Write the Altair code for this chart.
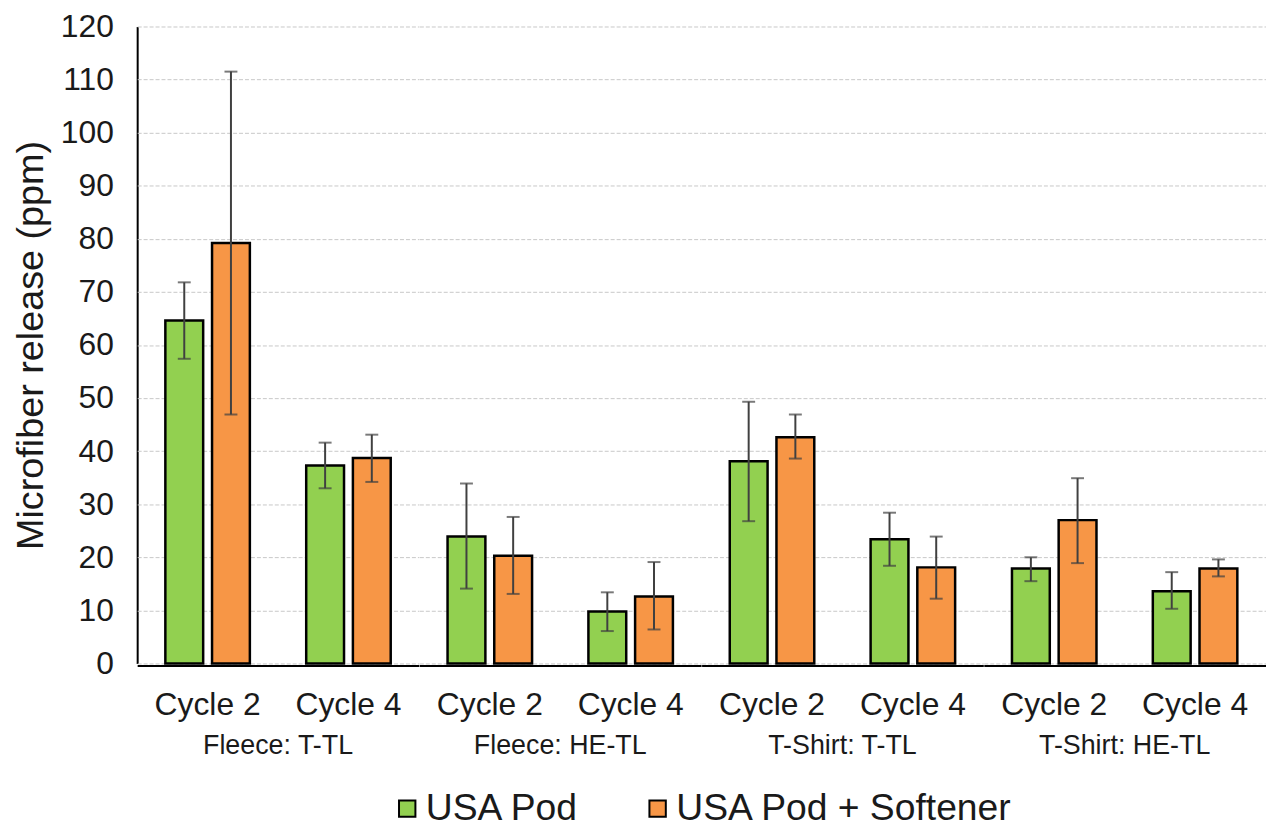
import altair as alt
import pandas as pd

groups = ["Fleece: T-TL", "Fleece: HE-TL", "T-Shirt: T-TL", "T-Shirt: HE-TL"]
cycles = ["Cycle 2", "Cycle 4"]
series = ["USA Pod", "USA Pod + Softener"]

# order: group x cycle
pod_mean = [64.6, 37.3, 23.9, 9.8, 38.1, 23.4, 17.9, 13.6]
pod_lo = [57.4, 33.0, 14.1, 6.1, 26.8, 18.4, 15.5, 10.3]
pod_hi = [71.8, 41.6, 33.9, 13.4, 49.3, 28.4, 20.0, 17.2]
soft_mean = [79.2, 38.7, 20.3, 12.6, 42.6, 18.1, 27.0, 17.9]
soft_lo = [46.9, 34.2, 13.1, 6.4, 38.6, 12.2, 18.9, 16.4]
soft_hi = [111.5, 43.1, 27.6, 19.1, 46.9, 23.9, 34.9, 19.6]

rows = []
i = 0
for g in groups:
    for c in cycles:
        rows.append(dict(group=g, cycle=c, series=series[0], value=pod_mean[i], lo=pod_lo[i], hi=pod_hi[i]))
        rows.append(dict(group=g, cycle=c, series=series[1], value=soft_mean[i], lo=soft_lo[i], hi=soft_hi[i]))
        i += 1
df = pd.DataFrame(rows)

FONT = "Liberation Sans"
GREEN = "#92D050"
ORANGE = "#F79646"
ERR = "#404040"

x_enc = alt.X("cycle:N", sort=cycles, title=None,
              scale=alt.Scale(paddingInner=0.4, paddingOuter=0.2),
              axis=alt.Axis(labelAngle=0, ticks=False, grid=False, domainColor="black", domainWidth=2,
                            labelFontSize=32, labelPadding=24, labelColor="#1a1a1a", labelFont=FONT))
xo_enc = alt.XOffset("series:N", sort=series, scale=alt.Scale(paddingInner=0.19, paddingOuter=0))
y_scale = alt.Scale(domain=[0, 120], nice=False)

base = alt.Chart(df)
bars = base.mark_bar(stroke="black", strokeWidth=2.5).encode(
    x=x_enc,
    xOffset=xo_enc,
    y=alt.Y("value:Q", scale=y_scale, title="Microfiber release (ppm)",
            axis=alt.Axis(values=list(range(0, 121, 10)), ticks=False, domainColor="black", domainWidth=2,
                          grid=True, gridColor="#c8c8c8", gridDash=[4, 2], gridWidth=1,
                          labelFontSize=32, labelPadding=24, labelColor="#1a1a1a", labelFont=FONT,
                          titleFontSize=38, titleFontWeight="normal", titlePadding=10,
                          titleColor="#1a1a1a", titleFont=FONT)),
    color=alt.Color("series:N", sort=series, scale=alt.Scale(domain=series, range=[GREEN, ORANGE]),
                    legend=alt.Legend(title=None, orient="none", direction="horizontal",
                                      legendX=253, legendY=768,
                                      symbolType="square", symbolSize=272, symbolStrokeWidth=2,
                                      symbolStrokeColor="black", labelFontSize=37.5, labelFont=FONT,
                                      labelColor="#1a1a1a", columnPadding=60, labelOffset=0,
                                      labelLimit=600)),
)
rules = base.mark_rule(color=ERR, strokeWidth=2).encode(
    x=x_enc, xOffset=xo_enc, y=alt.Y("lo:Q", scale=y_scale), y2="hi:Q")
cap_lo = base.mark_tick(color=ERR, thickness=2, size=13).encode(
    x=x_enc, xOffset=xo_enc, y=alt.Y("lo:Q", scale=y_scale))
cap_hi = base.mark_tick(color=ERR, thickness=2, size=13).encode(
    x=x_enc, xOffset=xo_enc, y=alt.Y("hi:Q", scale=y_scale))

layer = alt.layer(bars, rules, cap_lo, cap_hi).properties(width=283.5, height=641)

chart = layer.facet(
    column=alt.Column("group:N", sort=groups, title=None,
                      header=alt.Header(labelOrient="bottom", labelFontSize=27, labelFont=FONT,
                                        labelColor="#1a1a1a", labelPadding=13))
).properties(spacing=0, background="white",
             padding={"left": 4, "top": 0, "right": 0, "bottom": 0}
).configure_view(stroke="transparent", strokeWidth=0)

chart.save("out.html", embed_options={"renderer": "svg", "actions": False})
